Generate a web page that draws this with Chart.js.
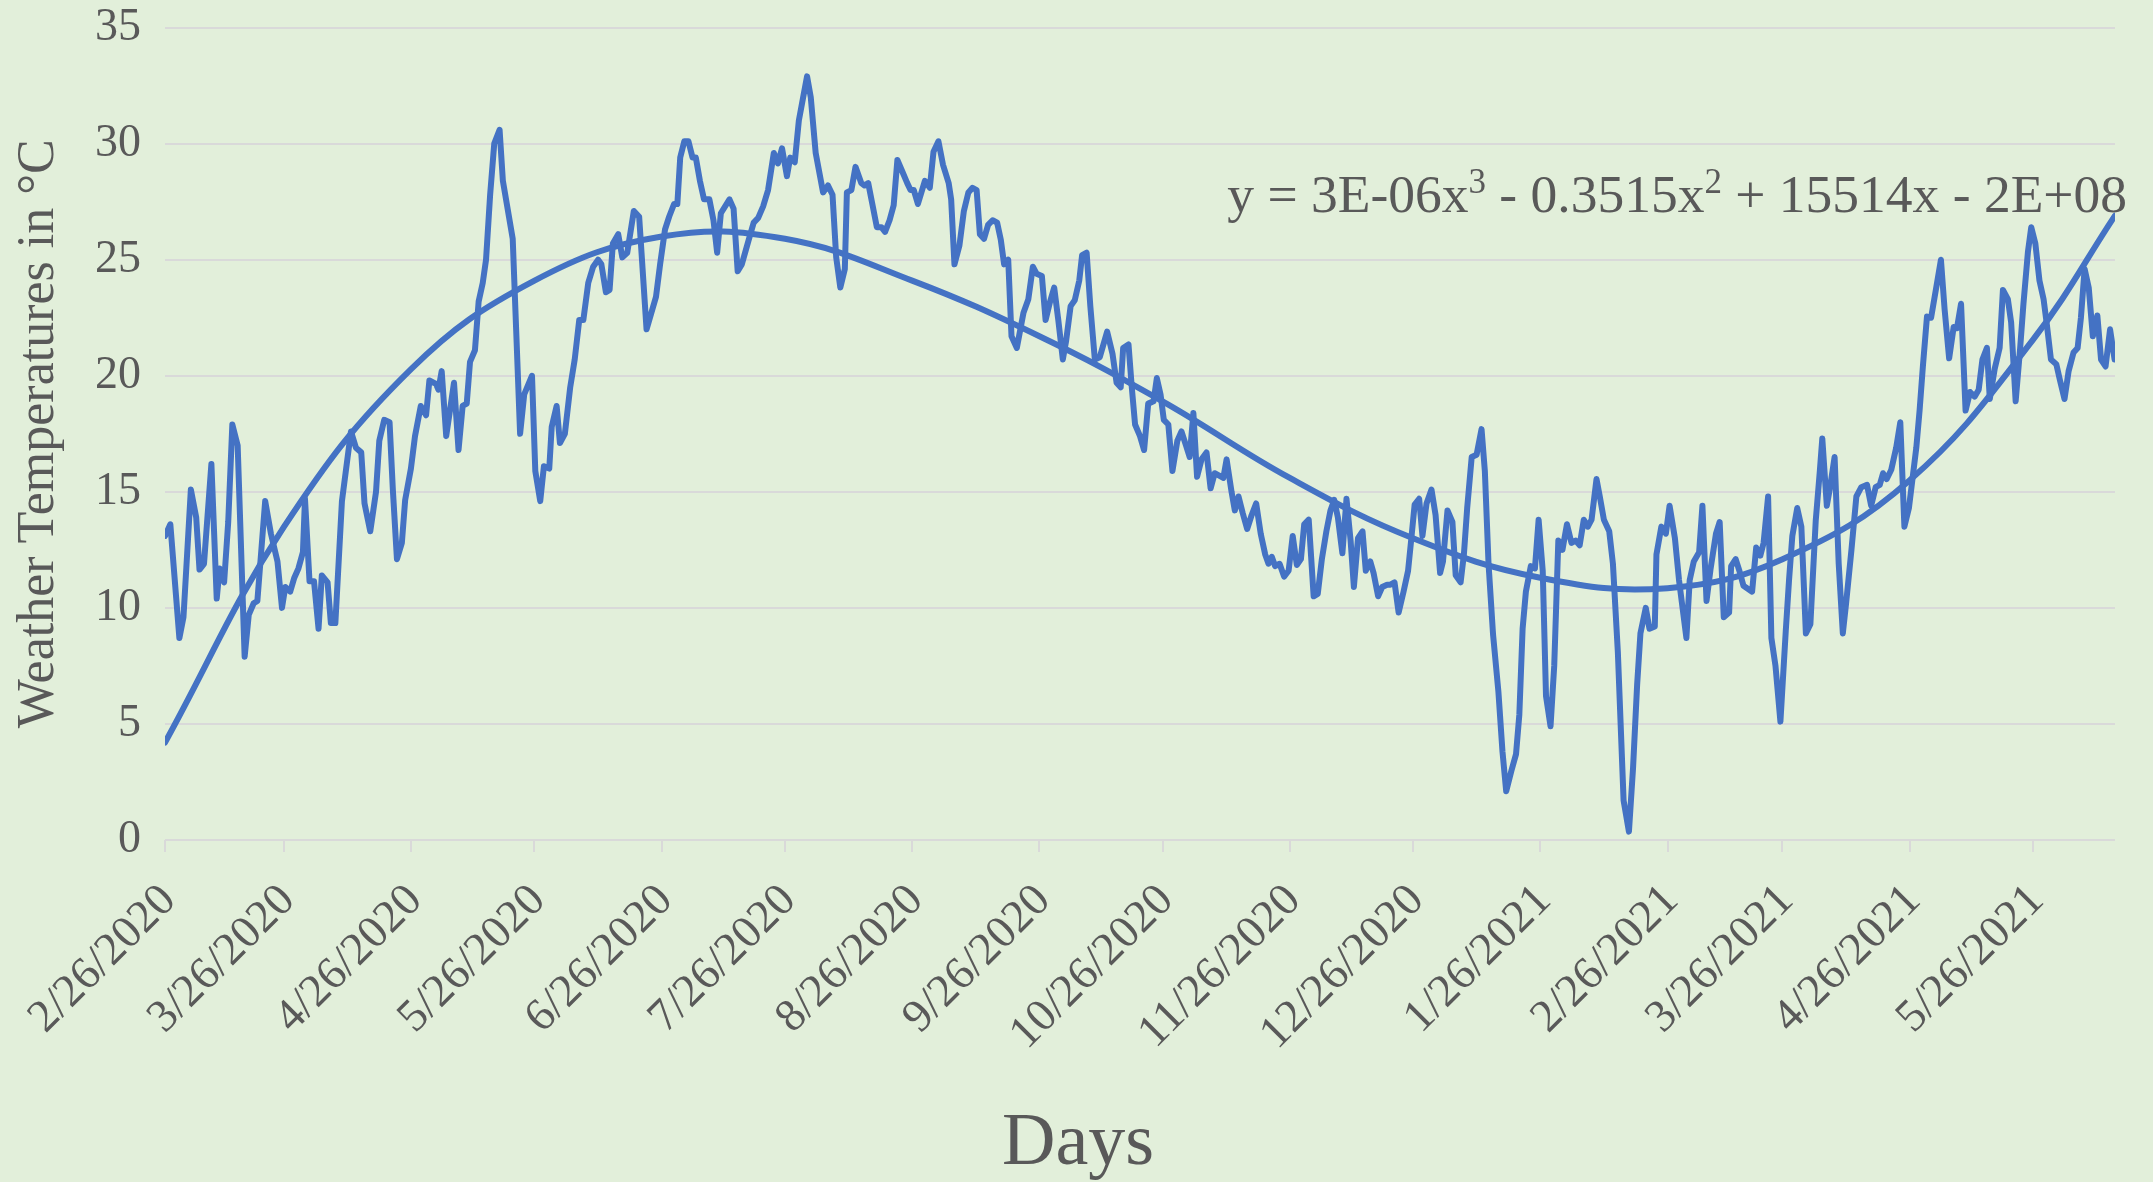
<!DOCTYPE html>
<html><head><meta charset="utf-8">
<script src="https://cdn.jsdelivr.net/npm/chart.js@4.4.1/dist/chart.umd.min.js"></script>
<style>
html,body{margin:0;padding:0;background:#E2EFDA;}
#wrap{width:2153px;height:1182px;position:relative;}
</style></head><body>
<div id="wrap"><canvas id="c" width="2153" height="1182"></canvas></div>
<script>
// Day offset (days since 2/26/2020) of each plotted reading
const dayPos = [
0.0,1.3,3.5,4.5,6.3,7.6,8.4,9.5,11.3,12.6,13.3,14.4,15.4,16.4,17.7,19.4,20.4,21.6,22.5,24.4,
25.8,27.4,28.5,29.3,30.5,31.5,32.5,33.6,34.1,35.2,36.3,37.4,38.2,39.6,40.4,41.5,43.1,45.3,46.5,47.8,
48.6,50.0,51.4,52.2,53.4,54.7,55.5,56.5,57.7,58.5,59.9,60.9,62.3,63.6,64.4,66.0,66.6,67.4,68.5,70.4,
71.5,72.5,73.5,74.3,75.5,76.4,77.4,78.2,79.2,80.2,81.5,82.3,84.7,86.5,87.5,89.4,90.2,91.4,92.3,93.6,
94.2,95.4,96.2,97.4,98.7,99.8,100.9,101.9,103.1,104.3,105.5,106.3,107.4,108.3,109.1,110.4,111.4,112.6,114.2,115.5,
117.3,119.6,120.6,121.8,122.8,124.0,124.8,125.5,126.5,127.5,128.5,129.3,130.3,131.3,132.6,133.6,134.5,135.4,137.5,138.5,
139.5,140.5,142.1,143.4,144.5,145.7,146.9,148.3,149.3,150.3,151.5,152.3,153.4,154.4,155.4,156.4,157.3,158.5,160.3,161.5,
162.6,163.5,164.5,165.6,166.1,167.2,168.2,169.6,170.4,171.3,172.3,173.4,174.5,175.4,176.5,177.5,178.4,179.6,180.8,181.6,
182.4,183.4,185.1,186.3,187.2,188.4,189.5,190.9,191.5,192.3,193.5,194.6,195.7,196.7,197.7,198.5,199.5,200.5,201.6,202.7,
203.6,204.4,205.4,206.2,207.5,209.1,210.3,211.4,212.3,213.6,214.5,215.6,216.6,217.6,218.7,219.5,220.6,221.6,222.7,223.4,
224.5,225.4,226.5,227.7,229.5,230.8,231.8,232.8,233.4,234.7,235.5,236.3,237.5,238.5,239.5,240.8,241.6,242.5,243.3,244.4,
245.4,246.6,247.6,248.7,249.6,250.5,251.4,252.5,253.7,254.7,255.7,256.8,257.8,258.6,259.8,260.6,261.5,262.5,263.6,264.7,
265.8,266.9,268.0,268.8,269.6,270.4,271.5,272.6,273.7,274.7,275.7,276.7,277.5,278.6,279.8,280.8,281.8,282.9,283.9,284.8,
285.7,286.8,287.8,288.8,289.6,290.6,291.7,292.5,293.6,294.4,295.5,296.5,297.7,298.5,299.5,300.5,301.7,302.8,303.6,304.4,
305.5,306.3,307.3,308.5,309.5,310.6,311.3,312.4,313.6,314.4,315.6,316.4,317.2,318.3,319.5,320.7,321.5,322.4,323.5,324.8,
325.8,326.7,328.0,329.1,329.9,330.7,331.5,332.7,333.7,334.6,335.6,336.4,337.5,338.4,339.4,340.4,341.5,342.6,343.6,344.6,
345.6,346.6,347.5,348.7,349.5,350.5,351.8,352.7,353.9,355.3,356.6,357.6,358.6,359.4,360.7,361.6,362.9,363.3,364.5,365.6,
366.5,367.8,368.8,370.6,371.4,372.4,373.7,374.5,375.5,376.5,377.8,378.7,379.7,381.0,381.5,382.6,383.5,384.5,386.6,387.6,
388.6,389.4,390.5,391.3,392.3,393.5,394.8,395.6,396.4,397.6,398.6,399.7,400.8,402.1,403.1,403.7,404.8,405.6,406.7,407.7,
408.7,409.5,410.8,412.0,413.2,414.6,415.6,416.7,417.7,418.5,419.4,420.5,421.7,422.7,423.7,424.8,425.7,426.6,427.4,428.2,
429.2,430.2,431.5,432.6,433.5,434.6,435.7,436.5,437.5,438.6,439.7,440.8,441.8,442.7,443.8,444.5,445.7,446.9,447.7,448.9,
449.7,450.8,451.9,452.7,453.8,454.6,455.6,456.6,457.6,458.4,459.4,460.7,461.6,462.7,463.7,464.9,465.9,466.7,467.6,468.6,
469.6,470.7,471.6,472.7,473.8,474.9
];
// Weather temperature readings in °C
const temps = [
13.1,13.6,8.7,9.6,15.1,13.9,11.65,11.9,16.2,10.4,11.7,11.1,13.7,17.9,17.0,7.9,9.7,10.2,10.3,14.6,
13.2,12.0,10.0,10.9,10.7,11.3,11.7,12.4,14.7,11.15,11.15,9.1,11.4,11.1,9.35,9.35,14.6,17.6,16.9,16.7,
14.5,13.3,15.0,17.2,18.1,18.0,15.1,12.1,12.8,14.65,16.0,17.4,18.7,18.3,19.8,19.65,19.4,20.2,17.4,19.7,
16.8,18.7,18.8,20.6,21.1,23.2,24.0,25.0,27.8,30.0,30.6,28.4,25.9,17.5,19.2,20.0,15.9,14.6,16.1,16.0,
17.8,18.7,17.1,17.5,19.5,20.7,22.4,22.4,24.0,24.7,25.0,24.8,23.6,23.7,25.7,26.1,25.1,25.3,27.1,26.85,
22.0,23.4,24.8,26.3,26.85,27.4,27.4,29.4,30.1,30.1,29.4,29.4,28.4,27.6,27.6,26.7,25.3,27.0,27.6,27.2,
24.5,24.8,25.8,26.6,26.8,27.3,28.0,29.6,29.15,29.8,28.6,29.4,29.2,31.0,31.95,32.9,32.0,29.6,27.9,28.2,
27.8,25.1,23.8,24.6,27.9,28.0,29.0,28.3,28.2,28.3,27.4,26.4,26.4,26.2,26.7,27.35,29.3,28.8,28.3,28.0,
28.0,27.4,28.4,28.1,29.65,30.1,29.1,28.3,27.6,24.8,25.6,27.1,27.9,28.1,28.0,26.1,25.9,26.5,26.7,26.6,
25.85,24.8,25.0,21.7,21.2,22.7,23.3,24.7,24.4,24.3,22.4,23.2,23.8,22.4,20.7,21.5,23.0,23.25,24.1,25.2,
25.3,23.0,20.7,20.8,21.9,20.95,19.7,19.5,21.2,21.35,19.5,17.9,17.4,16.8,18.8,18.9,19.9,19.2,18.1,17.9,
15.9,17.2,17.6,17.0,16.5,18.4,15.65,16.4,16.7,15.15,15.8,15.7,15.6,16.4,15.0,14.2,14.8,14.1,13.4,14.0,
14.5,13.2,12.3,11.9,12.2,11.8,11.9,11.35,11.6,13.1,11.85,12.1,13.6,13.8,10.5,10.6,12.1,13.3,14.2,14.65,
13.9,12.35,14.7,12.9,10.9,13.0,13.3,11.6,12.0,11.5,10.5,10.9,11.0,11.0,11.1,9.8,10.7,11.6,13.0,14.45,
14.7,13.1,14.5,15.1,14.0,11.5,12.0,14.2,13.7,11.4,11.1,12.3,14.3,16.5,16.6,17.7,15.9,11.9,8.85,6.4,
3.8,2.1,3.0,3.7,5.4,9.1,10.7,11.8,11.7,13.8,11.6,6.2,4.9,7.5,12.9,12.5,13.6,12.8,12.9,12.7,
13.8,13.5,13.8,15.55,14.8,13.8,13.3,11.9,8.1,1.7,0.36,3.1,6.7,8.9,10.0,9.1,9.2,12.3,13.5,13.2,
14.4,13.0,11.2,8.7,11.2,12.0,12.4,14.4,10.3,11.7,13.2,13.7,9.6,9.8,11.8,12.1,11.6,10.95,10.7,12.6,
12.25,12.8,14.8,8.7,7.5,5.1,9.0,11.2,13.1,14.3,13.5,8.9,9.3,13.75,15.9,17.3,14.4,15.2,16.5,11.9,
8.9,10.2,12.5,14.8,15.2,15.3,14.4,15.2,15.3,15.8,15.55,15.95,16.9,18.0,13.5,14.3,15.6,16.9,18.5,20.4,
22.55,22.5,23.85,25.0,22.85,20.75,22.1,22.05,23.1,18.5,19.3,19.1,19.4,20.7,21.2,19.0,20.3,21.2,23.7,23.3,
22.3,18.9,21.2,23.1,25.35,26.4,25.7,24.1,23.3,22.2,20.7,20.5,19.8,19.0,20.2,21.0,21.2,22.5,24.6,23.8,
21.7,22.6,20.7,20.4,22.0,20.7
];
// Polynomial trendline at these day offsets
const trendDays  = [0,29,60,90,121,151,182,213,243,274,304,335,366,394,425,455,475];
const trendTemps = [4.2,13.5,20.3,24.1,26.0,25.9,24.1,21.7,18.9,15.6,13.0,11.3,10.85,12.1,15.5,21.55,26.9];

const tickDays   = [0,29,60,90,121,151,182,213,243,274,304,335,366,394,425,455];
const tickLabels = ['2/26/2020','3/26/2020','4/26/2020','5/26/2020','6/26/2020','7/26/2020','8/26/2020','9/26/2020','10/26/2020','11/26/2020','12/26/2020','1/26/2021','2/26/2021','3/26/2021','4/26/2021','5/26/2021'];
const yTickValues = [0,5,10,15,20,25,30,35];
const yTitle = 'Weather Temperatures in °C';
const xTitle = 'Days';
const equationParts = [['y = 3E-06x',false],['3',true],[' - 0.3515x',false],['2',true],[' + 15514x - 2E+08',false]];

const TXT = '#595959';
const FONT = '"Liberation Serif", "Times New Roman", serif';
const BG = '#E2EFDA';
const LINE = '#4472C4';

const bgPlugin = {
  id: 'bg',
  beforeDraw(chart) {
    const ctx = chart.ctx;
    ctx.save();
    ctx.fillStyle = BG;
    ctx.fillRect(0, 0, chart.width, chart.height);
    ctx.restore();
  }
};

const textPlugin = {
  id: 'texts',
  afterDraw(chart) {
    const ctx = chart.ctx;
    ctx.save();
    ctx.fillStyle = TXT;
    ctx.textBaseline = 'alphabetic';
    // x-axis title, centred on the chart
    ctx.font = '74px ' + FONT;
    ctx.textAlign = 'center';
    ctx.fillText(xTitle, 1078, 1164);
    // trendline equation
    const big = '53.5px ' + FONT, small = '35px ' + FONT;
    let total = 0;
    for (const [t, sup] of equationParts) { ctx.font = sup ? small : big; total += ctx.measureText(t).width; }
    let x = 2127 - total;
    const base = 212;
    ctx.textAlign = 'left';
    for (const [t, sup] of equationParts) {
      ctx.font = sup ? small : big;
      ctx.fillText(t, x, sup ? base - 19 : base);
      x += ctx.measureText(t).width;
    }
    ctx.restore();
  }
};

new Chart(document.getElementById('c'), {
  type: 'line',
  data: {
    datasets: [
      {
        label: 'Temperature',
        data: dayPos.map((d, i) => ({x: d, y: temps[i]})),
        borderColor: LINE, borderWidth: 6, pointRadius: 0, tension: 0,
        borderJoinStyle: 'round', borderCapStyle: 'round', fill: false
      },
      {
        label: 'Poly. trend',
        data: trendDays.map((d, i) => ({x: d, y: trendTemps[i]})),
        borderColor: LINE, borderWidth: 6, pointRadius: 0, tension: 0.4,
        borderCapStyle: 'round', fill: false
      }
    ]
  },
  options: {
    responsive: false,
    animation: false,
    devicePixelRatio: 1,
    layout: { padding: { top: 0, right: 38, left: 0, bottom: 0 } },
    plugins: { legend: { display: false }, tooltip: { enabled: false } },
    scales: {
      x: {
        type: 'linear', min: 0, max: 475,
        afterBuildTicks: s => { s.ticks = tickDays.map(v => ({value: v})); },
        afterFit: s => { s.height = 342; },
        ticks: {
          autoSkip: false, maxRotation: 45, minRotation: 45,
          callback: v => tickLabels[tickDays.indexOf(v)],
          font: { family: FONT, size: 46 }, color: TXT, padding: 22, labelOffset: 4
        },
        grid: { drawOnChartArea: false, drawTicks: true, tickLength: 12, color: '#D9D9D9', lineWidth: 2 },
        border: { display: false }
      },
      y: {
        min: 0, max: 35,
        afterBuildTicks: s => { s.ticks = yTickValues.map(v => ({value: v})); },
        afterFit: s => { s.width = 165; },
        ticks: { font: { family: FONT, size: 46 }, color: TXT, padding: 0 },
        grid: { color: '#D9D9D9', lineWidth: 2, drawTicks: true, tickLength: 24, tickColor: 'rgba(0,0,0,0)' },
        border: { display: false },
        title: { display: true, text: yTitle, font: { family: FONT, size: 52 }, color: TXT, padding: { top: 8, bottom: 0 } }
      }
    }
  },
  plugins: [bgPlugin, textPlugin]
});
</script>
</body></html>
